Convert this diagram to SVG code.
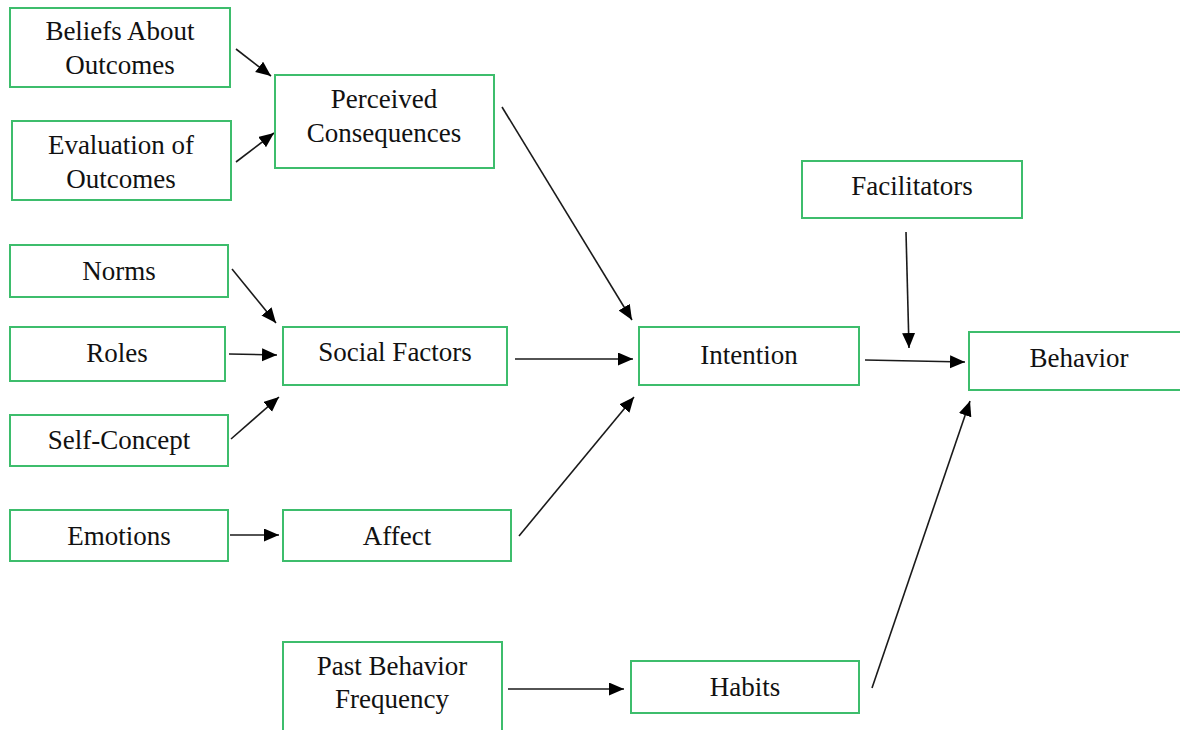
<svg xmlns="http://www.w3.org/2000/svg" width="1180" height="730" viewBox="0 0 1180 730">
<defs>
<marker id="ah" markerUnits="userSpaceOnUse" markerWidth="16" markerHeight="14" refX="15" refY="6.5" orient="auto">
<path d="M0,0 L15,6.5 L0,13 z" fill="#000"/>
</marker>
</defs>
<rect width="1180" height="730" fill="#ffffff"/>
<g id="connectors" stroke="#1a1a1a" stroke-width="1.6" fill="none" marker-end="url(#ah)">
<line x1="236" y1="49" x2="271" y2="76"/>
<line x1="236" y1="162" x2="274" y2="133"/>
<line x1="502" y1="107" x2="632" y2="320"/>
<line x1="232" y1="269" x2="276" y2="323"/>
<line x1="229" y1="354" x2="277" y2="355"/>
<line x1="231" y1="439" x2="279" y2="397"/>
<line x1="230" y1="535" x2="279" y2="535"/>
<line x1="515" y1="359" x2="633" y2="359"/>
<line x1="519" y1="536" x2="634" y2="397"/>
<line x1="865" y1="360" x2="965" y2="362"/>
<line x1="906" y1="232" x2="909" y2="348"/>
<line x1="508" y1="689" x2="624" y2="689"/>
<line x1="872" y1="688" x2="970" y2="401"/>
</g>
<g fill="#ffffff" stroke="#3dbd6c" stroke-width="2">
<rect id="beliefs-box" x="10" y="8" width="220" height="79"/>
<rect id="evaluation-box" x="12" y="121" width="219" height="79"/>
<rect id="perceived-box" x="275" y="75" width="219" height="93"/>
<rect id="norms-box" x="10" y="245" width="218" height="52"/>
<rect id="roles-box" x="10" y="327" width="215" height="54"/>
<rect id="selfconcept-box" x="10" y="415" width="218" height="51"/>
<rect id="emotions-box" x="10" y="510" width="218" height="51"/>
<rect id="social-box" x="283" y="327" width="224" height="58"/>
<rect id="affect-box" x="283" y="510" width="228" height="51"/>
<rect id="past-box" x="283" y="642" width="219" height="100"/>
<rect id="habits-box" x="631" y="661" width="228" height="52"/>
<rect id="intention-box" x="639" y="327" width="220" height="58"/>
<rect id="facilitators-box" x="802" y="161" width="220" height="57"/>
<rect id="behavior-box" x="969" y="332" width="222" height="58"/>
</g>
<g fill="#111111" text-anchor="middle">
<text x="120" y="40" font-family="Liberation Serif" font-size="27">Beliefs About</text>
<text x="120" y="74" font-family="Liberation Serif" font-size="27">Outcomes</text>
<text x="121" y="154" font-family="Liberation Serif" font-size="27">Evaluation of</text>
<text x="121" y="188" font-family="Liberation Serif" font-size="27">Outcomes</text>
<text x="384" y="108" font-family="Liberation Serif" font-size="27">Perceived</text>
<text x="384" y="142" font-family="Liberation Serif" font-size="27">Consequences</text>
<text x="119" y="280" font-family="Liberation Serif" font-size="27">Norms</text>
<text x="117" y="362" font-family="Liberation Serif" font-size="27">Roles</text>
<text x="119" y="449" font-family="Liberation Serif" font-size="27">Self-Concept</text>
<text x="119" y="545" font-family="Liberation Serif" font-size="27">Emotions</text>
<text x="395" y="361" font-family="Liberation Serif" font-size="27">Social Factors</text>
<text x="397" y="545" font-family="Liberation Serif" font-size="27">Affect</text>
<text x="392" y="675" font-family="Liberation Serif" font-size="27">Past Behavior</text>
<text x="392" y="708" font-family="Liberation Serif" font-size="27">Frequency</text>
<text x="745" y="696" font-family="Liberation Serif" font-size="27">Habits</text>
<text x="749" y="364" font-family="Liberation Serif" font-size="27">Intention</text>
<text x="912" y="195" font-family="Liberation Serif" font-size="27">Facilitators</text>
<text x="1079" y="367" font-family="Liberation Serif" font-size="27">Behavior</text>
</g>
</svg>
